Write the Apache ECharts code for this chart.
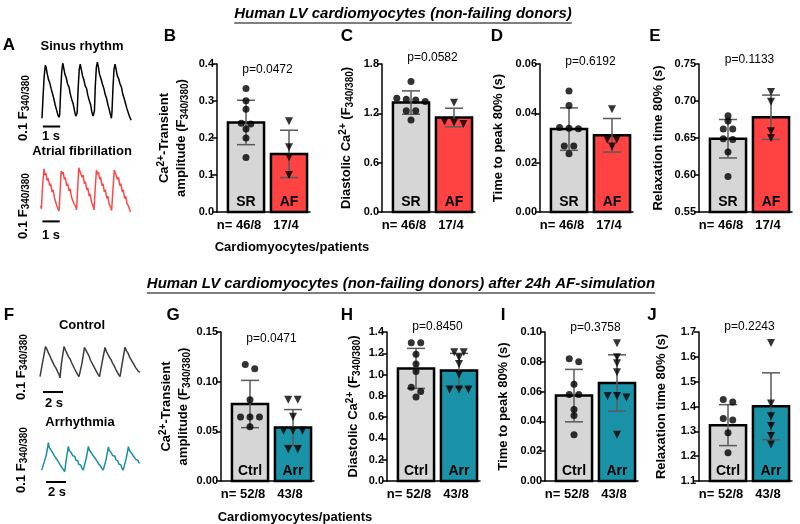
<!DOCTYPE html>
<html><head><meta charset="utf-8">
<script src="https://cdn.jsdelivr.net/npm/echarts@6/dist/echarts.min.js"></script>
<style>html,body{margin:0;padding:0;background:#fff}#c{width:800px;height:524px}</style>
</head><body><div id="c"></div><script>
// ================= DATA =================
const catsAF = ['SR', 'AF'];
const catsSim = ['Ctrl', 'Arr'];
const nAF = ['n= 46/8', '17/4'];
const nSim = ['n= 52/8', '43/8'];
const pAF = ['p=0.0472', 'p=0.0582', 'p=0.6192', 'p=0.1133'];
const pSim = ['p=0.0471', 'p=0.8450', 'p=0.3758', 'p=0.2243'];

// axis [min, max, interval]
const axisAmpAF = [0, 0.4, 0.1];
const axisDiaAF = [0, 1.8, 0.6];
const axisTtpAF = [0, 0.06, 0.02];
const axisRtAF = [0.55, 0.75, 0.05];
const axisAmpSim = [0, 0.15, 0.05];
const axisDiaSim = [0, 1.4, 0.2];
const axisTtpSim = [0, 0.10, 0.02];
const axisRtSim = [1.1, 1.7, 0.1];

// means and SD [group1, group2]
const ampMeanAF = [0.242, 0.157], ampSdAF = [0.060, 0.064];
const diaMeanAF = [1.331, 1.149], diaSdAF = [0.142, 0.113];
const ttpMeanAF = [0.0336, 0.0311], ttpSdAF = [0.0086, 0.0068];
const rtMeanAF = [0.649, 0.678], rtSdAF = [0.026, 0.030];
const ampMeanSim = [0.0775, 0.0539], ampSdSim = [0.0238, 0.0180];
const diaMeanSim = [1.058, 1.039], diaSdSim = [0.188, 0.160];
const ttpMeanSim = [0.0573, 0.0658], ttpSdSim = [0.0176, 0.0189];
const rtMeanSim = [1.325, 1.401], rtSdSim = [0.0825, 0.1345];

// individual patient points
const ampSR = [0.334, 0.301, 0.278, 0.240, 0.238, 0.224, 0.200, 0.147];
const ampAF = [0.245, 0.175, 0.148, 0.100];
const diaSR = [1.586, 1.383, 1.371, 1.363, 1.343, 1.23, 1.23, 1.12];
const diaAF = [1.33, 1.10, 1.09, 1.07];
const ttpSR = [0.0491, 0.0432, 0.0343, 0.0340, 0.0337, 0.0268, 0.0268, 0.0236];
const ttpAF = [0.0417, 0.0293, 0.0293, 0.0266];
const rtSR = [0.680, 0.673, 0.662, 0.662, 0.649, 0.648, 0.631, 0.598];
const rtAF = [0.712, 0.699, 0.659, 0.650];
const ampCtrl = [0.1173, 0.1129, 0.0819, 0.0644, 0.0644, 0.0644, 0.0546];
const ampArr = [0.0819, 0.0819, 0.0647, 0.0506, 0.0506, 0.0506, 0.032, 0.032];
const diaCtrl = [1.30, 1.30, 1.19, 1.10, 1.03, 0.88, 0.84, 0.79];
const diaArr = [1.21, 1.21, 1.16, 1.10, 1.00, 0.86, 0.86, 0.86];
const ttpCtrl = [0.082, 0.080, 0.065, 0.058, 0.058, 0.048, 0.044, 0.031];
const ttpArr = [0.0925, 0.083, 0.079, 0.073, 0.057, 0.057, 0.056, 0.031];
const rtCtrl = [1.428, 1.418, 1.352, 1.346, 1.294, 1.214];
const rtArr = [1.656, 1.412, 1.361, 1.321, 1.281, 1.247];

// example traces [time s, F340/380 change]
const traceSinus = [[0,0.005],[0.05,0.09],[0.12,0.2],[0.19,0.26],[0.24,0.25],[0.3,0.22],[0.38,0.19],[0.45,0.175],[0.52,0.15],[0.6,0.125],[0.68,0.1],[0.76,0.07],[0.84,0.045],[0.92,0.02],[0.98,0.01],
 [1.02,0.02],[1.07,0.12],[1.14,0.23],[1.2,0.27],[1.26,0.245],[1.33,0.215],[1.4,0.2],[1.48,0.17],[1.56,0.155],[1.64,0.12],[1.72,0.095],[1.8,0.075],[1.88,0.04],[1.95,0.015],[2.0,0.008],
 [2.03,0.03],[2.09,0.15],[2.15,0.24],[2.21,0.265],[2.27,0.24],[2.34,0.21],[2.42,0.19],[2.5,0.16],[2.57,0.15],[2.65,0.115],[2.73,0.09],[2.81,0.07],[2.88,0.035],[2.95,0.015],[2.99,0.01],
 [3.03,0.04],[3.08,0.16],[3.14,0.25],[3.2,0.275],[3.26,0.25],[3.33,0.215],[3.41,0.195],[3.49,0.17],[3.57,0.15],[3.65,0.12],[3.73,0.1],[3.81,0.07],[3.89,0.045],[3.96,0.02],[4.01,0.005],
 [4.04,0.03],[4.1,0.15],[4.16,0.24],[4.22,0.265],[4.28,0.24],[4.35,0.21],[4.43,0.195],[4.51,0.17],[4.59,0.155],[4.67,0.12],[4.75,0.1],[4.83,0.075],[4.91,0.05],[4.99,0.03],[5.07,0.01],[5.15,-0.005]];
const traceAF = [[0,0.035],[0.04,0.02],[0.1,0.12],[0.19,0.21],[0.25,0.18],[0.3,0.19],[0.37,0.155],[0.43,0.165],[0.52,0.13],[0.57,0.14],[0.66,0.1],[0.72,0.11],[0.8,0.07],[0.86,0.075],[0.93,0.035],[1.0,0.02],[1.06,0.01],
 [1.1,0.07],[1.18,0.2],[1.24,0.185],[1.3,0.195],[1.37,0.16],[1.42,0.17],[1.5,0.13],[1.56,0.14],[1.64,0.105],[1.7,0.115],[1.78,0.075],[1.85,0.08],[1.92,0.045],[2.0,0.035],[2.07,0.015],
 [2.12,0.09],[2.2,0.215],[2.26,0.2],[2.32,0.205],[2.39,0.17],[2.45,0.18],[2.52,0.14],[2.58,0.15],[2.66,0.11],[2.72,0.12],[2.8,0.08],[2.86,0.09],[2.94,0.05],[3.0,0.04],[3.08,0.015],
 [3.13,0.09],[3.22,0.205],[3.28,0.185],[3.34,0.195],[3.41,0.16],[3.47,0.17],[3.54,0.13],[3.6,0.14],[3.68,0.1],[3.74,0.11],[3.82,0.07],[3.88,0.08],[3.96,0.04],[4.03,0.03],[4.1,0.012],
 [4.15,0.08],[4.25,0.205],[4.31,0.19],[4.37,0.195],[4.44,0.16],[4.5,0.17],[4.57,0.13],[4.63,0.14],[4.71,0.1],[4.77,0.11],[4.85,0.07],[4.91,0.08],[4.99,0.045],[5.06,0.035],[5.12,0.02],[5.19,0.005]];
const traceCtrl = [[0,0.012],[0.1,0.005],[0.3,0.07],[0.55,0.118],[0.7,0.108],[0.85,0.095],[1.0,0.085],[1.15,0.072],[1.3,0.066],[1.45,0.05],[1.6,0.042],[1.75,0.03],[1.9,0.02],[2.0,0.008],
 [2.15,0.06],[2.4,0.118],[2.55,0.105],[2.7,0.098],[2.85,0.083],[3.0,0.075],[3.15,0.062],[3.3,0.055],[3.45,0.04],[3.6,0.033],[3.75,0.02],[3.9,0.012],[4.05,0.005],
 [4.2,0.06],[4.45,0.115],[4.6,0.105],[4.75,0.095],[4.9,0.085],[5.05,0.07],[5.2,0.064],[5.35,0.05],[5.5,0.044],[5.65,0.03],[5.8,0.02],[5.95,0.012],[6.1,0.005],
 [6.25,0.07],[6.5,0.115],[6.65,0.1],[6.8,0.095],[6.95,0.08],[7.1,0.072],[7.25,0.06],[7.4,0.052],[7.55,0.04],[7.7,0.03],[7.85,0.02],[8.0,0.012],[8.1,0.005],
 [8.25,0.065],[8.5,0.116],[8.65,0.103],[8.8,0.095],[8.95,0.082],[9.1,0.075],[9.25,0.063],[9.4,0.055],[9.55,0.045],[9.7,0.04],[9.85,0.03],[10.0,0.028]];
const traceArr = [[0,0.01],[0.2,0.005],[0.45,0.06],[0.67,0.105],[0.75,0.088],[0.82,0.092],[0.95,0.078],[1.02,0.08],[1.1,0.07],[1.2,0.066],[1.25,0.06],[1.33,0.062],[1.4,0.055],[1.55,0.045],[1.62,0.047],[1.7,0.04],[1.85,0.028],[1.92,0.03],[2.0,0.022],[2.15,0.012],[2.3,0.005],
 [2.45,0.045],[2.67,0.092],[2.75,0.078],[2.82,0.082],[2.95,0.07],[3.02,0.072],[3.1,0.06],[3.25,0.055],[3.32,0.057],[3.4,0.045],[3.55,0.04],[3.62,0.042],[3.7,0.03],[3.85,0.025],[3.92,0.027],[4.0,0.018],[4.15,0.01],[4.3,0.004],
 [4.45,0.05],[4.67,0.092],[4.75,0.08],[4.82,0.083],[4.95,0.07],[5.02,0.072],[5.1,0.062],[5.25,0.055],[5.32,0.058],[5.4,0.048],[5.55,0.04],[5.62,0.042],[5.7,0.032],[5.85,0.025],[5.92,0.027],[6.0,0.02],[6.15,0.01],[6.3,0.005],
 [6.45,0.048],[6.67,0.09],[6.75,0.078],[6.82,0.081],[6.95,0.07],[7.02,0.072],[7.1,0.06],[7.25,0.056],[7.32,0.058],[7.4,0.046],[7.55,0.04],[7.62,0.042],[7.7,0.031],[7.85,0.026],[7.92,0.028],[8.0,0.018],[8.15,0.01],[8.3,0.005],
 [8.45,0.05],[8.67,0.091],[8.75,0.079],[8.82,0.082],[8.95,0.07],[9.02,0.072],[9.1,0.062],[9.25,0.055],[9.32,0.057],[9.4,0.047],[9.55,0.042],[9.62,0.044],[9.7,0.036],[9.8,0.034]];
const scaleAmp = 0.1;      // F340/380 scale bar
const scaleTimeAF = 1;     // s
const scaleTimeSim = 2;    // s

// ================= LAYOUT / STYLE =================
const F = '"Liberation Sans", Arial, sans-serif';
const RICH = {
  b: {fontFamily: F, fontWeight: 'bold', fontSize: 13, lineHeight: 17, color: '#000'},
  sup: {fontFamily: F, fontWeight: 'bold', fontSize: 10, lineHeight: 10, verticalAlign: 'top', color: '#000'},
  sub: {fontFamily: F, fontWeight: 'bold', fontSize: 10, lineHeight: 10, verticalAlign: 'bottom', color: '#000'}
};
const NAME_AMP = '{b|Ca}{sup|2+}{b|-Transient}\n{b|amplitude (F}{sub|340/380}{b|)}';
const NAME_DIA = '{b|Diastolic Ca}{sup|2+}{b| (F}{sub|340/380}{b|)}';
const NAME_TTP = '{b|Time to peak 80% (s)}';
const NAME_RT = '{b|Relaxation time 80% (s)}';
const GREY = '#d6d6d6', RED = '#ff4343', TEAL = '#1a93a8';
const UNIT = 43, OFF0 = 29, GW = 93;
const XMIN = -OFF0 / UNIT, XMAX = (GW - OFF0) / UNIT;

const panels = [
  {axisX: 217, top: 64, bot: 212, ax: axisAmpAF, dec: 1, name: NAME_AMP, gap: 27, p: pAF[0], pY: 70, cats: catsAF, n: nAF, fills: [GREY, RED], mean: ampMeanAF, sd: ampSdAF, pts: [ampSR, ampAF]},
  {axisX: 382, top: 64, bot: 212, ax: axisDiaAF, dec: 1, name: NAME_DIA, gap: 27, p: pAF[1], pY: 58, cats: catsAF, n: nAF, fills: [GREY, RED], mean: diaMeanAF, sd: diaSdAF, pts: [diaSR, diaAF]},
  {axisX: 540, top: 64, bot: 212, ax: axisTtpAF, dec: 2, name: NAME_TTP, gap: 33, p: pAF[2], pY: 62, cats: catsAF, n: nAF, fills: [GREY, RED], mean: ttpMeanAF, sd: ttpSdAF, pts: [ttpSR, ttpAF]},
  {axisX: 699, top: 64, bot: 212, ax: axisRtAF, dec: 2, name: NAME_RT, gap: 32, p: pAF[3], pY: 60, cats: catsAF, n: nAF, fills: [GREY, RED], mean: rtMeanAF, sd: rtSdAF, pts: [rtSR, rtAF]},
  {axisX: 221, top: 332, bot: 481, ax: axisAmpSim, dec: 2, name: NAME_AMP, gap: 29, p: pSim[0], pY: 339, cats: catsSim, n: nSim, fills: [GREY, TEAL], mean: ampMeanSim, sd: ampSdSim, pts: [ampCtrl, ampArr]},
  {axisX: 387, top: 332, bot: 481, ax: axisDiaSim, dec: 1, name: NAME_DIA, gap: 25, p: pSim[1], pY: 327, cats: catsSim, n: nSim, fills: [GREY, TEAL], mean: diaMeanSim, sd: diaSdSim, pts: [diaCtrl, diaArr]},
  {axisX: 545, top: 332, bot: 481, ax: axisTtpSim, dec: 2, name: NAME_TTP, gap: 33, p: pSim[2], pY: 328, cats: catsSim, n: nSim, fills: [GREY, TEAL], mean: ttpMeanSim, sd: ttpSdSim, pts: [ttpCtrl, ttpArr]},
  {axisX: 699, top: 332, bot: 481, ax: axisRtSim, dec: 1, name: NAME_RT, gap: 29, p: pSim[3], pY: 327, cats: catsSim, n: nSim, fills: [GREY, TEAL], mean: rtMeanSim, sd: rtSdSim, pts: [rtCtrl, rtArr]}
];

function swarm(vals, ci, ax) {
  const thr = (ax[1] - ax[0]) * 0.035;
  const sorted = vals.slice().sort((a, b) => b - a);
  const rows = [];
  sorted.forEach(v => {
    const r = rows[rows.length - 1];
    if (r && Math.abs(r[0] - v) < thr) r.push(v); else rows.push([v]);
  });
  const out = [];
  rows.forEach(r => r.forEach((v, j) => out.push([ci + (j - (r.length - 1) / 2) * 0.22, v])));
  return out;
}

const axLine = {color: '#000', width: 1.5};
const grid = [], xAxis = [], yAxis = [], series = [], graphic = [];

panels.forEach((pn, k) => {
  grid.push({left: pn.axisX, top: pn.top, width: GW, height: pn.bot - pn.top});
  xAxis.push({gridIndex: k, type: 'value', min: XMIN, max: XMAX,
    axisLine: {show: true, onZero: false, lineStyle: axLine}, axisTick: {show: false},
    axisLabel: {show: false}, splitLine: {show: false}});
  yAxis.push({gridIndex: k, type: 'value', min: pn.ax[0], max: pn.ax[1], interval: pn.ax[2],
    axisLine: {show: true, onZero: false, lineStyle: axLine},
    axisTick: {show: true, length: 5, lineStyle: axLine},
    axisLabel: {formatter: v => v.toFixed(pn.dec), fontFamily: F, fontWeight: 'bold', fontSize: 11, color: '#000', margin: 3},
    splitLine: {show: false},
    name: pn.name, nameLocation: 'middle', nameRotate: 90, nameGap: pn.gap,
    nameTextStyle: {rich: RICH, align: 'center'}});
  series.push({
    type: 'custom', xAxisIndex: k, yAxisIndex: k, silent: true, z: 2, clip: false,
    data: pn.mean.map((m, i) => [i, m, pn.sd[i]]),
    renderItem: (params, api) => {
      const i = api.value(0), m = api.value(1), s = api.value(2);
      const b0 = api.coord([i, pn.ax[0]]), t0 = api.coord([i, m]);
      const hi = api.coord([i, m + s]), lo = api.coord([i, m - s]);
      const w = api.size([0.84, 0])[0], cw = api.size([0.42, 0])[0];
      const eb = {stroke: '#5a5a5a', lineWidth: 1.5};
      const ndx = i === 0 ? -7 : -3;
      return {type: 'group', children: [
        {type: 'rect', shape: {x: b0[0] - w / 2, y: t0[1], width: w, height: b0[1] - t0[1]},
          style: {fill: pn.fills[i], stroke: '#000', lineWidth: 2.5}},
        {type: 'line', shape: {x1: hi[0], y1: hi[1], x2: lo[0], y2: lo[1]}, style: eb},
        {type: 'line', shape: {x1: hi[0] - cw / 2, y1: hi[1], x2: hi[0] + cw / 2, y2: hi[1]}, style: eb},
        {type: 'line', shape: {x1: lo[0] - cw / 2, y1: lo[1], x2: lo[0] + cw / 2, y2: lo[1]}, style: eb},
        {type: 'text', x: b0[0], y: b0[1] - 3, z2: 10, style: {text: pn.cats[i], font: 'bold 14px ' + F, fill: '#000', textAlign: 'center', textVerticalAlign: 'bottom'}},
        {type: 'text', x: b0[0] + ndx, y: b0[1] + 13, style: {text: pn.n[i], font: 'bold 13px ' + F, fill: '#000', textAlign: 'center', textVerticalAlign: 'middle'}}
      ]};
    }
  });
  pn.pts.forEach((vals, i) => {
    series.push({type: 'scatter', xAxisIndex: k, yAxisIndex: k, z: 5, silent: true,
      symbol: i === 0 ? 'circle' : 'triangle', symbolRotate: i === 0 ? 0 : 180,
      symbolSize: i === 0 ? 7 : 8, itemStyle: {color: '#000'},
      data: swarm(vals, i, pn.ax)});
  });
  graphic.push({type: 'text', x: pn.axisX + OFF0 + UNIT / 2, y: pn.pY,
    style: {text: pn.p, font: '12px ' + F, fill: '#000', textAlign: 'center', textVerticalAlign: 'middle'}});
});

// trace panels
const traces = [
  {g: {left: 42, top: 57, width: 90, height: 83}, x: [0, 5.2], y: [-0.1, 0.3], data: traceSinus, color: '#000',
    vBar: [-0.5, -0.01], hBar: [0.05, -0.035], tScale: scaleTimeAF},
  {g: {left: 40.7, top: 150, width: 90, height: 84}, x: [0, 5.2], y: [-0.1, 0.3], data: traceAF, color: '#ff4848',
    vBar: [-0.45, -0.02], hBar: [0.1, -0.04], tScale: scaleTimeAF},
  {g: {left: 40, top: 323.4, width: 100, height: 85}, x: [0, 10], y: [-0.1, 0.2], data: traceCtrl, color: '#3c3c3c',
    vBar: [-0.7, -0.011], hBar: [0.3, -0.042], tScale: scaleTimeSim},
  {g: {left: 41.7, top: 415, width: 100, height: 87}, x: [0, 10], y: [-0.1, 0.2], data: traceArr, color: '#1b8fa2',
    vBar: [-0.87, -0.007], hBar: [0.43, -0.031], tScale: scaleTimeSim}
];
traces.forEach(tr => {
  const k = grid.length;
  grid.push(tr.g);
  xAxis.push({gridIndex: k, type: 'value', min: tr.x[0], max: tr.x[1], show: false});
  yAxis.push({gridIndex: k, type: 'value', min: tr.y[0], max: tr.y[1], show: false});
  series.push({type: 'line', xAxisIndex: k, yAxisIndex: k, data: tr.data, showSymbol: false, clip: false, silent: true,
    lineStyle: {color: tr.color, width: 1.5}});
  series.push({type: 'line', xAxisIndex: k, yAxisIndex: k, showSymbol: false, clip: false, silent: true,
    data: [[tr.vBar[0], tr.vBar[1]], [tr.vBar[0], tr.vBar[1] + scaleAmp]], lineStyle: {color: '#000', width: 2}});
  series.push({type: 'line', xAxisIndex: k, yAxisIndex: k, showSymbol: false, clip: false, silent: true,
    data: [[tr.hBar[0], tr.hBar[1]], [tr.hBar[0] + tr.tScale, tr.hBar[1]]], lineStyle: {color: '#000', width: 2}});
});

function txt(x, y, text, font, extra) {
  graphic.push(Object.assign({type: 'text', x, y, style: {text, font, fill: '#000', textAlign: 'center', textVerticalAlign: 'middle'}}, extra || {}));
}
// panel letters
[['A', 9, 45], ['B', 170, 36], ['C', 347, 36], ['D', 497, 36], ['E', 655, 36],
 ['F', 9, 315], ['G', 173, 315], ['H', 347, 315], ['I', 503, 315], ['J', 652, 315]]
  .forEach(l => txt(l[1], l[2], l[0], 'bold 17px ' + F));
// trace labels
txt(82, 46, 'Sinus rhythm', 'bold 13px ' + F);
txt(82, 151, 'Atrial fibrillation', 'bold 13px ' + F);
txt(82, 325, 'Control', 'bold 13px ' + F);
txt(80, 422, 'Arrhythmia', 'bold 13px ' + F);
txt(51, 136, '1 s', 'bold 13px ' + F);
txt(51, 235, '1 s', 'bold 13px ' + F);
txt(54, 403, '2 s', 'bold 13px ' + F);
txt(57, 492, '2 s', 'bold 13px ' + F);
[[23, 108], [23, 206], [21, 367], [21, 460]].forEach(p => {
  graphic.push({type: 'text', x: p[0], y: p[1], rotation: Math.PI / 2,
    style: {text: '{b|0.1 F}{sub|340/380}', rich: RICH, textAlign: 'center', textVerticalAlign: 'middle'}});
});
txt(292, 247, 'Cardiomyocytes/patients', 'bold 13px ' + F);
txt(295, 517, 'Cardiomyocytes/patients', 'bold 13px ' + F);

// underlined titles
const tfont = 'italic bold 15px ' + F;
const ctx = document.createElement('canvas').getContext('2d');
ctx.font = tfont;
[['Human LV cardiomyocytes (non-failing donors)', 403, 14],
 ['Human LV cardiomyocytes (non-failing donors) after 24h AF-simulation', 401, 284]].forEach(t => {
  txt(t[1], t[2], t[0], tfont);
  const w = ctx.measureText(t[0]).width;
  graphic.push({type: 'line', shape: {x1: t[1] - w / 2, y1: t[2] + 9, x2: t[1] + w / 2, y2: t[2] + 9}, style: {stroke: '#000', lineWidth: 1.2}});
});

const chart = echarts.init(document.getElementById('c'), null, {renderer: 'canvas'});
chart.setOption({animation: false, backgroundColor: '#fff', grid, xAxis, yAxis, series, graphic});
</script></body></html>
